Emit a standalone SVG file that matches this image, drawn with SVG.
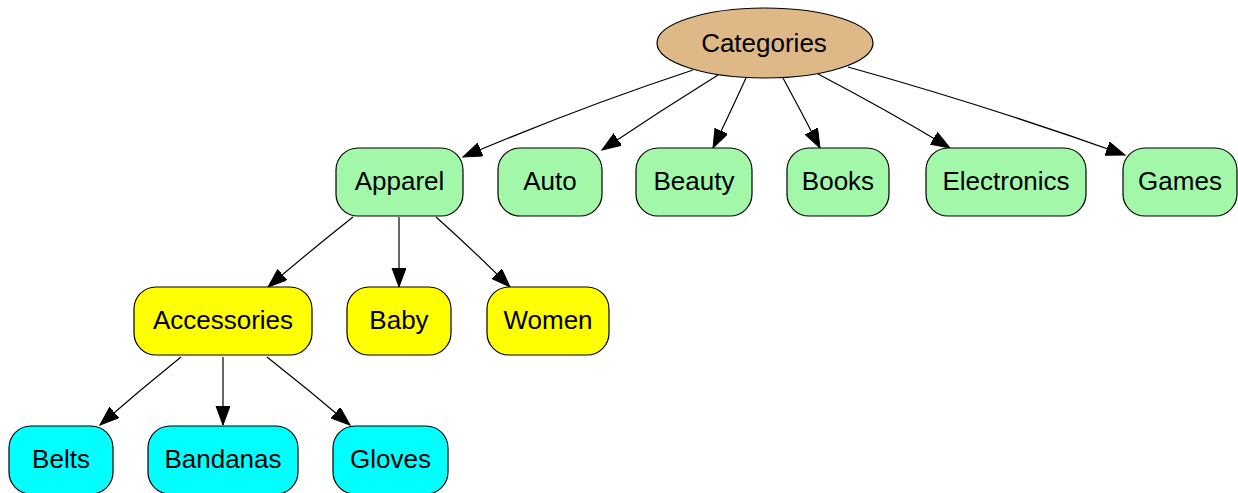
<svg xmlns="http://www.w3.org/2000/svg" width="1238" height="493" viewBox="0 0 1238 493">
<style>
.n rect, .n ellipse { stroke: #000; stroke-width: 1.2; }
.l2 rect { fill: #a3f7a8; }
.l3 rect { fill: #ffff00; }
.l4 rect { fill: #00ffff; }
text { font-family: "Liberation Sans", Arial, sans-serif; font-size: 26px; text-anchor: middle; dominant-baseline: central; fill: #000; }
.e path { fill: none; stroke: #000; stroke-width: 1.2; }
</style>
<defs>
<marker id="ah" markerUnits="userSpaceOnUse" markerWidth="22" markerHeight="16" refX="19" refY="7" orient="auto">
<path d="M0,0 L19,7 L0,14 Z" fill="#000" stroke="#000" stroke-width="1"/>
</marker>
</defs>
<rect width="1238" height="493" fill="#fff"/>
<g id="edges" class="e">
<path d="M693,70 Q578,108 463,157" marker-end="url(#ah)"/>
<path d="M718,75 Q660,111 602,150" marker-end="url(#ah)"/>
<path d="M746,78 Q730,113 713,148" marker-end="url(#ah)"/>
<path d="M783,78 Q802,113 820,148" marker-end="url(#ah)"/>
<path d="M818,74 Q885,109 950,148" marker-end="url(#ah)"/>
<path d="M848,67 Q988,106 1125,155" marker-end="url(#ah)"/>
<path d="M353,217 Q310,251 268,287" marker-end="url(#ah)"/>
<path d="M399,217 L399,287" marker-end="url(#ah)"/>
<path d="M436,217 Q474,251 510,287" marker-end="url(#ah)"/>
<path d="M181,357 Q140,390 100,425" marker-end="url(#ah)"/>
<path d="M223,357 L223,425" marker-end="url(#ah)"/>
<path d="M267,357 Q309,390 350,425" marker-end="url(#ah)"/>
</g>
<g id="categories" class="n"><ellipse cx="765" cy="43" rx="108" ry="35" fill="#deb887"/><text x="764" y="43">Categories</text></g>
<g id="apparel" class="n l2"><rect x="336" y="148" width="127" height="68" rx="22"/><text x="399.5" y="181">Apparel</text></g>
<g id="auto" class="n l2"><rect x="498" y="148" width="104" height="68" rx="22"/><text x="550" y="181">Auto</text></g>
<g id="beauty" class="n l2"><rect x="636" y="148" width="116" height="68" rx="22"/><text x="694" y="181">Beauty</text></g>
<g id="books" class="n l2"><rect x="787" y="148" width="102" height="68" rx="22"/><text x="838" y="181">Books</text></g>
<g id="electronics" class="n l2"><rect x="926" y="148" width="160" height="68" rx="22"/><text x="1006" y="181">Electronics</text></g>
<g id="games" class="n l2"><rect x="1123" y="148" width="114" height="68" rx="22"/><text x="1180" y="181">Games</text></g>
<g id="accessories" class="n l3"><rect x="134" y="287" width="178" height="68" rx="22"/><text x="223" y="320">Accessories</text></g>
<g id="baby" class="n l3"><rect x="347" y="287" width="104" height="68" rx="22"/><text x="399" y="320">Baby</text></g>
<g id="women" class="n l3"><rect x="487" y="287" width="122" height="68" rx="22"/><text x="548" y="320">Women</text></g>
<g id="belts" class="n l4"><rect x="9" y="426" width="104" height="68" rx="22"/><text x="61" y="459">Belts</text></g>
<g id="bandanas" class="n l4"><rect x="148" y="426" width="150" height="68" rx="22"/><text x="223" y="459">Bandanas</text></g>
<g id="gloves" class="n l4"><rect x="333" y="426" width="115" height="68" rx="22"/><text x="390.5" y="459">Gloves</text></g>
</svg>
